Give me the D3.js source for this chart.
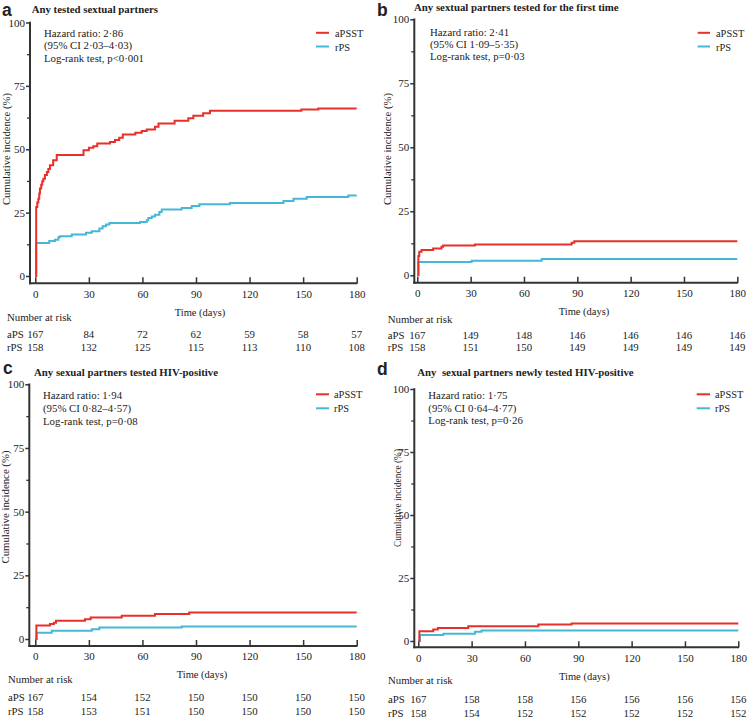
<!DOCTYPE html>
<html><head><meta charset="utf-8">
<script src="https://cdn.jsdelivr.net/npm/d3@7"></script>
<style>
body{margin:0;background:#fff}
svg{display:block}
text{font-family:"Liberation Serif","Times New Roman",serif;fill:#222}
</style>
</head><body><svg id="chart" width="750" height="718"></svg>
<script>
// ---------- data ----------
const timeTicks=[0,30,60,90,120,150,180];
const yMajorTicks=[0,25,50,75,100];
const yMinorTicks=[12.5,37.5,62.5,87.5];
const seriesNames=["aPSST","rPS"];
const riskRowLabels=["aPS","rPS"];
const panelLetters=["a","b","c","d"];
const panelTitles=["Any tested sextual partners","Any sextual partners tested for the first time","Any sexual partners tested HIV-positive","Any  sexual partners newly tested HIV-positive"];
const hazardLines=["Hazard ratio: 2·86","Hazard ratio: 2·41","Hazard ratio: 1·94","Hazard ratio: 1·75"];
const ciLines=["(95% CI 2·03–4·03)","(95% CI 1·09–5·35)","(95% CI 0·82–4·57)","(95% CI 0·64–4·77)"];
const logRankLines=["Log-rank test, p<0·001","Log-rank test, p=0·03","Log-rank test, p=0·08","Log-rank test, p=0·26"];
const xTitle="Time (days)";
const yTitle="Cumulative incidence (%)";
const riskTitle="Number at risk";

// step curves: [day, cumulative incidence %]
const aPSST_a=[[0,0],[0.5,27.2],[1.1,29],[1.7,30.5],[2.2,32.5],[2.6,34.5],[3.3,36],[3.9,37.4],[4.5,38.4],[5.4,39.8],[6.5,41],[7.3,42.2],[8.2,43.7],[10,45.7],[12,47.7],[27,49.6],[30,50.6],[32.5,51.2],[34.7,52.3],[41.8,52.9],[44.6,53.6],[47,54.5],[49,55.8],[56,56.5],[59.6,57.2],[62.4,57.8],[67,58.9],[69,60.2],[78,61.2],[85.7,62.2],[88.5,63.2],[94,64.2],[97.8,65.2],[149,65.7],[158.5,66.1],[180,66.1]];
const rPS_a=[[0,0],[0.5,13.0],[7.8,13.8],[11,14.3],[12.9,15.3],[13.8,15.7],[20.4,16.4],[28.4,17.1],[31.6,17.7],[35.9,18.7],[37.7,19.6],[39.6,20.3],[41.5,20.9],[58.6,21.3],[62.4,22],[63.3,22.9],[65.2,23.5],[67,24.2],[69.5,25.2],[70.8,26.2],[82,26.8],[87.6,27.6],[91.9,28.3],[109,28.8],[139,29.6],[144.6,30.5],[152,31.2],[175.3,31.8],[180,31.8]];
const aPSST_b=[[0,0],[0.6,7.5],[1.1,9.2],[2.4,9.9],[8.9,10.5],[13.6,11.2],[14.5,11.6],[32.4,12.0],[86.8,12.7],[88.3,13.3],[180,13.3]];
const rPS_b=[[0,0],[0.6,5.2],[30.6,5.7],[70,6.4],[180,6.4]];
const aPSST_c=[[0,0],[0.6,5.3],[8.2,5.9],[10.4,6.4],[11.6,7.2],[27.8,7.8],[31,8.4],[48.4,9.1],[67,9.8],[86.2,10.4],[180,10.4]];
const rPS_c=[[0,0],[0.8,2.5],[9.2,3.2],[31.6,3.8],[35.9,4.5],[82,4.9],[180,4.9]];
const aPSST_d=[[0,0],[0.6,3.9],[8.4,4.6],[11,5.2],[28.1,5.9],[67.5,6.5],[86.2,6.9],[180,6.9]];
const rPS_d=[[0,0],[0.9,2.4],[14.1,2.9],[31.9,3.7],[35.6,4.2],[180,4.2]];

// numbers at risk at each time tick
const risk_a_aPS=[167,84,72,62,59,58,57];
const risk_a_rPS=[158,132,125,115,113,110,108];
const risk_b_aPS=[167,149,148,146,146,146,146];
const risk_b_rPS=[158,151,150,149,149,149,149];
const risk_c_aPS=[167,154,152,150,150,150,150];
const risk_c_rPS=[158,153,151,150,150,150,150];
const risk_d_aPS=[167,158,158,156,156,156,156];
const risk_d_rPS=[158,154,152,152,152,152,152];

const curvesByPanel=[[aPSST_a,rPS_a],[aPSST_b,rPS_b],[aPSST_c,rPS_c],[aPSST_d,rPS_d]];
const riskByPanel=[[risk_a_aPS,risk_a_rPS],[risk_b_aPS,risk_b_rPS],[risk_c_aPS,risk_c_rPS],[risk_d_aPS,risk_d_rPS]];

// ---------- layout ----------
const colors=["#e8302a","#46b8d6"];
const axisColor="#333";
const fs="10.8px";
const layout=[
 {ax:30,x0:35.3,x1:356.7,y100:22.5,y0:276,xa:283.3,time:[200,315.5],nar:[7,320.5],rows:[338,350.5],letter:[2,15.5],title:[31.7,13],ann:[44,37,12.3],leg:[316,329,335,32.8,46.5],ylab:[6,149,112]},
 {ax:414.3,x0:417.3,x1:737.3,y100:19.3,y0:275.3,xa:282.7,time:[584,314.5],nar:[387.7,323],rows:[339,350.5],letter:[377,15.5],title:[414,10.5],ann:[430,35.7,12.2],leg:[697.7,710,716,32.8,46.5],ylab:[387,149,112]},
 {ax:29.3,x0:35.3,x1:356.7,y100:384.3,y0:639,xa:646,time:[202,678],nar:[8,683],rows:[700.5,714.5],letter:[3,373.5],title:[34,376],ann:[43,399,12.8],leg:[316,329,334,394.3,408.3],ylab:[5,507,113]},
 {ax:414.3,x0:418.3,x1:738.3,y100:389,y0:641,xa:647.3,time:[584.3,679.5],nar:[388,684],rows:[703,716.5],letter:[377,375],title:[417.3,375.5],ann:[428.3,399,12.5],leg:[696.7,710,715,394.3,408.3],ylab:[397,498,98]}
];

const svg=d3.select("#chart");

layout.forEach((L,i)=>{
  const g=svg.append("g");
  const x=d3.scaleLinear().domain([0,180]).range([L.x0,L.x1]);
  const y=d3.scaleLinear().domain([0,100]).range([L.y0,L.y100]);

  // y axis (major)
  const yAx=g.append("g").attr("transform",`translate(${L.ax},0)`)
    .call(d3.axisLeft(y).tickValues(yMajorTicks).tickSize(4).tickPadding(1));
  yAx.select(".domain").remove();
  yAx.selectAll("line").attr("stroke",axisColor).attr("stroke-width",1.5);
  yAx.selectAll("text").style("font-family",'"Liberation Serif","Times New Roman",serif').style("font-size","11px").attr("fill","#222");
  // y minor ticks
  const yMin=g.append("g").attr("transform",`translate(${L.ax},0)`)
    .call(d3.axisLeft(y).tickValues(yMinorTicks).tickSize(3).tickFormat(""));
  yMin.select(".domain").remove();
  yMin.selectAll("line").attr("stroke",axisColor).attr("stroke-width",1.3);

  // x axis
  const xAx=g.append("g").attr("transform",`translate(0,${L.xa})`)
    .call(d3.axisBottom(x).tickValues(timeTicks).tickSizeInner(-6).tickSizeOuter(0).tickPadding(6.5));
  xAx.select(".domain").remove();
  xAx.selectAll("line").attr("stroke",axisColor).attr("stroke-width",1.5);
  xAx.selectAll("text").style("font-family",'"Liberation Serif","Times New Roman",serif').style("font-size","11px").attr("fill","#222");

  // axis lines
  g.append("line").attr("x1",L.ax).attr("x2",L.ax).attr("y1",L.y100-0.75).attr("y2",L.xa+1)
    .attr("stroke",axisColor).attr("stroke-width",2);
  g.append("line").attr("x1",L.ax-1).attr("x2",L.x1+0.75).attr("y1",L.xa).attr("y2",L.xa)
    .attr("stroke",axisColor).attr("stroke-width",2);

  // curves (rPS under aPSST)
  const line=d3.line().x(d=>x(d[0])).y(d=>y(d[1])).curve(d3.curveStepAfter);
  [1,0].forEach(k=>{
    g.append("path").datum(curvesByPanel[i][k]).attr("d",line)
      .attr("fill","none").attr("stroke",colors[k]).attr("stroke-width",2).attr("stroke-linejoin","miter");
  });

  // panel letter + title
  g.append("text").attr("x",L.letter[0]).attr("y",L.letter[1]).text(panelLetters[i])
    .style("font-family",'"Liberation Sans",Arial,sans-serif').style("font-weight","bold").style("font-size","17.5px").attr("fill","#111");
  g.append("text").attr("x",L.title[0]).attr("y",L.title[1]).text(panelTitles[i])
    .style("font-weight","bold").style("font-size",fs).style("white-space","pre").attr("fill","#111");

  // annotation
  [hazardLines[i],ciLines[i],logRankLines[i]].forEach((t,j)=>{
    g.append("text").attr("x",L.ann[0]).attr("y",L.ann[1]+j*L.ann[2]).text(t).style("font-size",fs);
  });

  // legend
  seriesNames.forEach((s,k)=>{
    const ly=L.leg[3+k];
    g.append("line").attr("x1",L.leg[0]).attr("x2",L.leg[1]).attr("y1",ly).attr("y2",ly)
      .attr("stroke",colors[k]).attr("stroke-width",2);
    g.append("text").attr("x",L.leg[2]).attr("y",ly+4).text(s).style("font-size","10.4px");
  });

  // axis titles
  g.append("text").attr("x",L.time[0]).attr("y",L.time[1]).attr("text-anchor","middle").text(xTitle).style("font-size","10.5px");
  g.append("text").attr("transform",`translate(${L.ylab[0]+4},${L.ylab[1]}) rotate(-90)`)
    .attr("text-anchor","middle").attr("textLength",L.ylab[2]).attr("lengthAdjust","spacingAndGlyphs")
    .text(yTitle).style("font-size",fs);

  // number at risk
  g.append("text").attr("x",L.nar[0]).attr("y",L.nar[1]).text(riskTitle).style("font-size",fs);
  riskRowLabels.forEach((lab,k)=>{
    g.append("text").attr("x",L.nar[0]).attr("y",L.rows[k]).text(lab).style("font-size",fs);
    riskByPanel[i][k].forEach((n,j)=>{
      g.append("text").attr("x",x(timeTicks[j])).attr("y",L.rows[k]).attr("text-anchor","middle")
        .text(n).style("font-size",fs);
    });
  });
});
</script>
</body></html>
